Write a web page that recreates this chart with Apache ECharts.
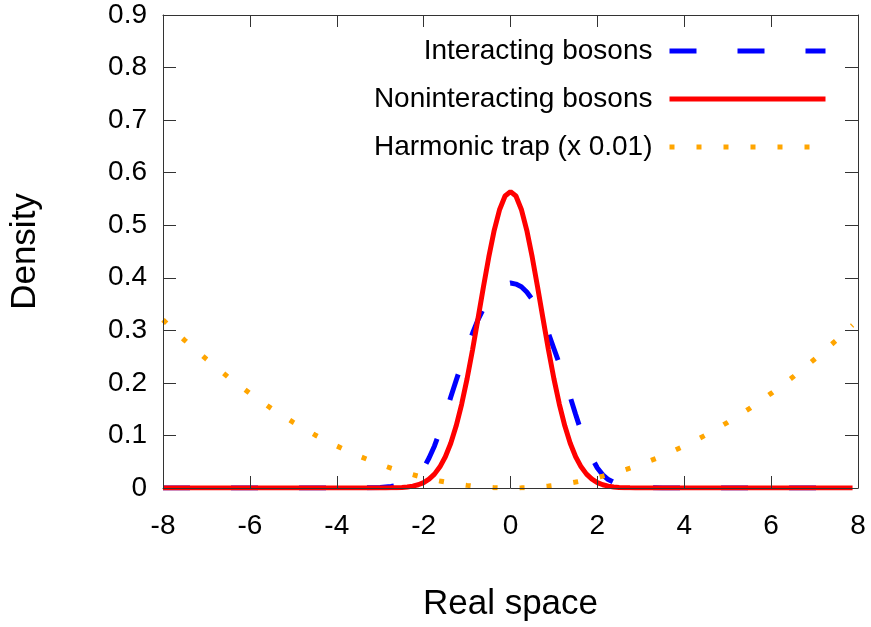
<!DOCTYPE html>
<html>
<head>
<meta charset="utf-8">
<script src="https://cdn.jsdelivr.net/npm/echarts@6/dist/echarts.min.js"></script>
<style>html,body{margin:0;padding:0;background:#fff;}#c{width:871px;height:627px;}</style>
</head>
<body>
<div id="c"></div>
<script>
var seriesNames = ['Interacting bosons', 'Noninteracting bosons', 'Harmonic trap (x 0.01)'];
var xTicks = [-8, -6, -4, -2, 0, 2, 4, 6, 8];
var yTicks = [0, 0.1, 0.2, 0.3, 0.4, 0.5, 0.6, 0.7, 0.8, 0.9];

var xs = [-8, -7.5, -7, -6.5, -6, -5.5, -5, -4.5, -4, -3.5,
  -3, -2.875, -2.75, -2.625, -2.5, -2.375, -2.25, -2.125, -2, -1.875, -1.75, -1.625, -1.5, -1.375, -1.25, -1.125,
  -1, -0.875, -0.75, -0.625, -0.5, -0.375, -0.25, -0.125, 0, 0.125, 0.25, 0.375, 0.5, 0.625, 0.75, 0.875,
  1, 1.125, 1.25, 1.375, 1.5, 1.625, 1.75, 1.875, 2, 2.125, 2.25, 2.375, 2.5, 2.625, 2.75, 2.875, 3,
  3.5, 4, 4.5, 5, 5.5, 6, 6.5, 7, 7.5, 7.875];

var interacting = [0, 0, 0, 0, 0, 0, 0, 0, 0, 0,
  0.001, 0.002, 0.003, 0.005, 0.007, 0.011, 0.016, 0.025, 0.038, 0.057, 0.08, 0.108, 0.14, 0.173, 0.205, 0.236,
  0.265, 0.294, 0.32, 0.341, 0.359, 0.373, 0.383, 0.388, 0.39, 0.388, 0.383, 0.373, 0.359, 0.341, 0.32, 0.294,
  0.265, 0.236, 0.205, 0.173, 0.14, 0.108, 0.08, 0.057, 0.038, 0.025, 0.016, 0.011, 0.007, 0.005, 0.003, 0.002, 0.001,
  0, 0, 0, 0, 0, 0, 0, 0, 0, 0];

var noninteracting = [0, 0, 0, 0, 0, 0, 0, 0, 0, 0,
  0.0001, 0.0001, 0.0003, 0.0006, 0.0011, 0.002, 0.0036, 0.0062, 0.0103, 0.0168, 0.0264, 0.0402, 0.0595, 0.0852, 0.1183, 0.1592,
  0.2076, 0.2624, 0.3215, 0.3818, 0.4394, 0.4902, 0.530, 0.5555, 0.564, 0.5555, 0.530, 0.4902, 0.4394, 0.3818, 0.3215, 0.2624,
  0.2076, 0.1592, 0.1183, 0.0852, 0.0595, 0.0402, 0.0264, 0.0168, 0.0103, 0.0062, 0.0036, 0.002, 0.0011, 0.0006, 0.0003, 0.0001, 0.0001,
  0, 0, 0, 0, 0, 0, 0, 0, 0, 0];

var trap = [0.32, 0.281, 0.245, 0.211, 0.18, 0.151, 0.125, 0.101, 0.08, 0.061,
  0.045, 0.0413, 0.0378, 0.0345, 0.0313, 0.0282, 0.0253, 0.0226, 0.02, 0.0176, 0.0153, 0.0132, 0.0113, 0.0095, 0.0078, 0.0063,
  0.005, 0.0038, 0.0028, 0.002, 0.0013, 0.0007, 0.0003, 0.0001, 0, 0.0001, 0.0003, 0.0007, 0.0013, 0.002, 0.0028, 0.0038,
  0.005, 0.0063, 0.0078, 0.0095, 0.0113, 0.0132, 0.0153, 0.0176, 0.02, 0.0226, 0.0253, 0.0282, 0.0313, 0.0345, 0.0378, 0.0413, 0.045,
  0.061, 0.08, 0.101, 0.125, 0.151, 0.18, 0.211, 0.245, 0.281, 0.31];

function pairs(ys) { return xs.map(function (x, i) { return [x, ys[i]]; }); }

var FONT = '"Liberation Sans", Arial, Helvetica, sans-serif';
var axisColor = '#333';

var chart = echarts.init(document.getElementById('c'), null, {renderer: 'canvas'});
chart.setOption({
  backgroundColor: '#fff',
  animation: false,
  textStyle: {fontFamily: FONT},
  grid: {left: 163, right: 13, top: 15, bottom: 138, containLabel: false},
  legend: {
    data: seriesNames,
    orient: 'vertical',
    right: 38,
    top: 32,
    align: 'right',
    itemWidth: 156,
    itemHeight: 10,
    itemGap: 20,
    selectedMode: false,
    itemStyle: {opacity: 0},
    lineStyle: {width: 5},
    textStyle: {fontSize: 28, fontFamily: FONT, color: '#000', padding: [0, 12, 0, 0]}
  },
  xAxis: [{
    type: 'value', position: 'bottom', min: xTicks[0], max: xTicks[xTicks.length - 1], interval: 2,
    z: 10,
    axisLine: {onZero: false, lineStyle: {color: axisColor, width: 1}},
    axisTick: {inside: true, length: 12, lineStyle: {color: axisColor}},
    splitLine: {show: false},
    axisLabel: {fontSize: 28, color: '#000', margin: 24, fontFamily: FONT},
    name: 'Real space', nameLocation: 'middle', nameGap: 99,
    nameTextStyle: {fontSize: 35, color: '#000', fontFamily: FONT}
  }, {
    type: 'value', position: 'top', min: xTicks[0], max: xTicks[xTicks.length - 1], interval: 2,
    z: 10,
    axisLine: {onZero: false, lineStyle: {color: axisColor, width: 1}},
    axisTick: {inside: true, length: 12, lineStyle: {color: axisColor}},
    splitLine: {show: false},
    axisLabel: {show: false}
  }],
  yAxis: [{
    type: 'value', position: 'left', min: yTicks[0], max: yTicks[yTicks.length - 1], interval: 0.1,
    z: 10,
    axisLine: {show: true, onZero: false, lineStyle: {color: axisColor, width: 1}},
    axisTick: {show: true, inside: true, length: 13, lineStyle: {color: axisColor}},
    splitLine: {show: false},
    axisLabel: {fontSize: 28, color: '#000', margin: 16, fontFamily: FONT},
    name: 'Density', nameLocation: 'middle', nameGap: 120, nameRotate: 90,
    nameTextStyle: {fontSize: 35, color: '#000', fontFamily: FONT}
  }, {
    type: 'value', position: 'right', min: yTicks[0], max: yTicks[yTicks.length - 1], interval: 0.1,
    z: 10,
    axisLine: {show: true, onZero: false, lineStyle: {color: axisColor, width: 1}},
    axisTick: {show: true, inside: true, length: 13, lineStyle: {color: axisColor}},
    splitLine: {show: false},
    axisLabel: {show: false}
  }],
  series: [{
    name: seriesNames[0], type: 'line', xAxisIndex: 0, yAxisIndex: 0,
    data: pairs(interacting), symbol: 'none', z: 2,
    lineStyle: {color: '#0000ff', width: 5, type: [27, 41], cap: 'butt'},
    itemStyle: {color: '#0000ff'}
  }, {
    name: seriesNames[1], type: 'line', xAxisIndex: 0, yAxisIndex: 0,
    data: pairs(noninteracting), symbol: 'none', z: 3,
    lineStyle: {color: '#ff0000', width: 5, type: 'solid'},
    itemStyle: {color: '#ff0000'}
  }, {
    name: seriesNames[2], type: 'line', xAxisIndex: 0, yAxisIndex: 0,
    data: pairs(trap), symbol: 'none', z: 4,
    lineStyle: {color: '#ffa500', width: 5, type: [5, 22], cap: 'butt'},
    itemStyle: {color: '#ffa500'}
  }]
});
</script>
</body>
</html>
